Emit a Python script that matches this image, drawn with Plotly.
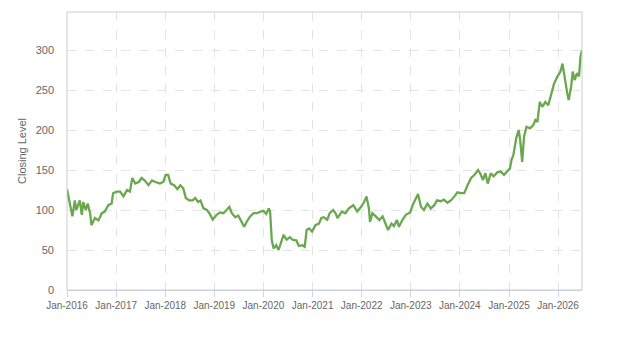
import plotly.graph_objects as go

dates = [
    "2016-01-01", "2016-01-22", "2016-02-10", "2016-02-28", "2016-03-10", "2016-04-05", "2016-04-20",
    "2016-05-01", "2016-05-19", "2016-06-03", "2016-06-21", "2016-07-01", "2016-07-27", "2016-08-22",
    "2016-09-16", "2016-10-08", "2016-11-03", "2016-11-28", "2016-12-09", "2017-01-04", "2017-01-30",
    "2017-02-24", "2017-03-22", "2017-04-13", "2017-05-01", "2017-05-23", "2017-06-18", "2017-07-09",
    "2017-07-31", "2017-08-29", "2017-09-24", "2017-10-20", "2017-11-22", "2017-12-17", "2018-01-04",
    "2018-01-22", "2018-02-10", "2018-03-08", "2018-04-01", "2018-04-23", "2018-05-15", "2018-06-03",
    "2018-06-28", "2018-07-24", "2018-08-11", "2018-09-02", "2018-09-20", "2018-10-12", "2018-11-07",
    "2018-11-25", "2018-12-20", "2019-01-18", "2019-02-13", "2019-03-10", "2019-04-05", "2019-04-23",
    "2019-05-11", "2019-06-06", "2019-06-28", "2019-07-16", "2019-08-11", "2019-08-29", "2019-09-24",
    "2019-10-20", "2019-11-14", "2019-12-10", "2020-01-01", "2020-01-22", "2020-02-10", "2020-02-20",
    "2020-03-03", "2020-03-17", "2020-04-05", "2020-04-23", "2020-05-11", "2020-05-30", "2020-06-21",
    "2020-07-16", "2020-08-07", "2020-09-02", "2020-09-20", "2020-10-16", "2020-11-03", "2020-11-18",
    "2020-12-06", "2020-12-28", "2021-01-22", "2021-02-17", "2021-03-07", "2021-03-25", "2021-04-20",
    "2021-05-08", "2021-06-03", "2021-06-21", "2021-07-05", "2021-08-07", "2021-09-02", "2021-09-28",
    "2021-10-31", "2021-11-29", "2021-12-28", "2022-01-19", "2022-02-06", "2022-02-24", "2022-03-04",
    "2022-03-22", "2022-04-16", "2022-05-12", "2022-06-06", "2022-06-28", "2022-07-16", "2022-08-11",
    "2022-08-29", "2022-09-20", "2022-10-05", "2022-10-31", "2022-11-25", "2022-12-28", "2023-01-15",
    "2023-02-10", "2023-02-24", "2023-03-18", "2023-04-09", "2023-05-05", "2023-05-30", "2023-06-25",
    "2023-07-16", "2023-08-11", "2023-09-05", "2023-10-01", "2023-10-27", "2023-11-22", "2023-12-14",
    "2024-01-08", "2024-02-03", "2024-02-28", "2024-03-25", "2024-04-20", "2024-05-16", "2024-06-03",
    "2024-06-21", "2024-07-09", "2024-07-27", "2024-08-18", "2024-09-09", "2024-10-05", "2024-10-31",
    "2024-11-25", "2024-12-20", "2025-01-08", "2025-01-19", "2025-02-03", "2025-02-24", "2025-03-14",
    "2025-03-25", "2025-04-09", "2025-04-23", "2025-05-11", "2025-06-06", "2025-07-01", "2025-07-16",
    "2025-07-31", "2025-08-18", "2025-09-06", "2025-09-28", "2025-10-20", "2025-11-07", "2025-12-02",
    "2025-12-28", "2026-01-19", "2026-02-03", "2026-02-17", "2026-03-10", "2026-03-21", "2026-04-08",
    "2026-04-20", "2026-05-04", "2026-05-22", "2026-06-06", "2026-06-17", "2026-06-28",
]

closing = [
    126, 108, 92, 112, 100, 112, 94,
    110, 100, 108, 96, 81, 90, 87,
    96, 98, 106, 108, 121, 123, 123,
    117, 125, 123, 140, 133, 135, 140,
    137, 131, 137, 135, 133, 135, 144,
    144, 133, 131, 126, 131, 127, 115,
    112, 112, 115, 110, 112, 102, 100,
    96, 88, 94, 97, 96, 100, 104,
    96, 91, 93, 88, 79, 85, 92,
    96, 96, 98, 99, 95, 102, 98,
    62.5, 52, 56, 50, 58, 69, 63,
    66, 62.5, 62, 55, 56, 54, 75,
    77, 73, 81, 83, 90, 91, 88,
    96, 100, 96, 90, 98, 96, 102,
    106, 98, 104, 110, 117, 102, 85,
    96, 92, 87.5, 92, 83, 75, 83,
    80, 87.5, 79, 87.5, 94, 97, 106,
    115, 120, 104, 100, 108, 102, 106,
    112, 111, 113, 109, 112, 117, 122,
    121, 121, 131, 140, 144, 150, 145,
    137.5, 146, 133, 146, 142, 147, 148,
    144, 148, 152, 162.5, 169, 190, 200,
    187.5, 160, 192, 204, 202, 206, 212.5,
    210, 235, 229, 235, 231, 242, 258,
    267, 273, 283, 267, 246, 237.5, 254,
    273, 262.5, 271, 267, 292, 300,
]

tick_dates = ["2016-01-01", "2017-01-01", "2018-01-01", "2019-01-01", "2020-01-01", "2021-01-01",
              "2022-01-01", "2023-01-01", "2024-01-01", "2025-01-01", "2026-01-01"]
tick_labels = ["Jan-2016", "Jan-2017", "Jan-2018", "Jan-2019", "Jan-2020", "Jan-2021",
               "Jan-2022", "Jan-2023", "Jan-2024", "Jan-2025", "Jan-2026"]
y_ticks = [0, 50, 100, 150, 200, 250, 300]

fig = go.Figure()
fig.add_trace(go.Scatter(
    x=dates, y=closing, mode="lines",
    line=dict(color="#6aa84f", width=2.3),
    hoverinfo="skip", showlegend=False,
))

font_family = "Liberation Sans, Arial, sans-serif"
fig.update_layout(
    width=623, height=350,
    margin=dict(l=67, r=41, t=12, b=60),
    paper_bgcolor="white", plot_bgcolor="white",
    font=dict(family=font_family, color="#666666", size=11),
    xaxis=dict(
        range=["2016-01-01", "2026-06-28"],
        tickvals=tick_dates, ticktext=tick_labels,
        tickfont=dict(size=10, color="#666666"),
        showgrid=True, gridcolor="#e3e3e3", griddash="dash", gridwidth=1,
        showline=True, linecolor="#ccd6eb", linewidth=1,
        ticks="outside", ticklen=6, tickcolor="#ccd6eb",
        zeroline=False,
    ),
    yaxis=dict(
        range=[0, 347.5],
        tickvals=y_ticks,
        tickfont=dict(size=11, color="#666666"),
        showgrid=True, gridcolor="#e3e3e3", griddash="dash", gridwidth=1,
        showline=False, zeroline=False,
        ticks="", ticklabelstandoff=12,
        title=dict(text="Closing Level", font=dict(size=11, color="#666666"), standoff=6),
    ),
    shapes=[dict(type="rect", xref="paper", yref="paper", x0=0, y0=0, x1=1, y1=1,
                 line=dict(color="#cccccc", width=1), layer="above")],
)

fig.write_html("out.html")
